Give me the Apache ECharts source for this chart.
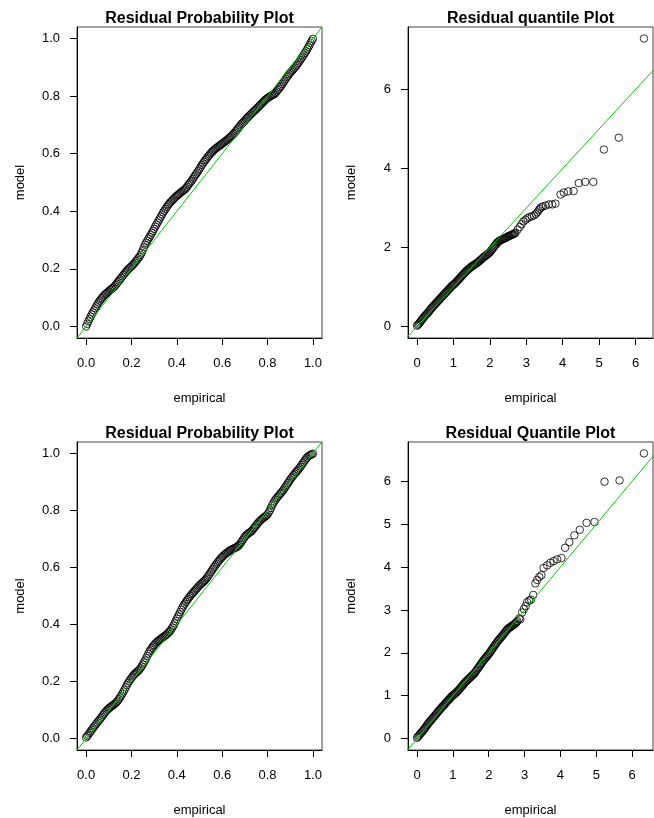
<!DOCTYPE html>
<html>
<head>
<meta charset="utf-8">
<title>Residual plots</title>
<script src="https://cdn.jsdelivr.net/npm/echarts@6/dist/echarts.min.js"></script>
<style>
  html, body { margin: 0; padding: 0; background: #fff; }
  #main { width: 654px; height: 818px; }
</style>
</head>
<body>
<div id="main"></div>
<script>
// empirical probabilities (shared by both probability plots)
var probEmpirical = [
  0.000, 0.005, 0.010, 0.015, 0.020, 0.025, 0.030, 0.035, 0.040, 0.045, 0.050, 0.055, 0.060, 0.065, 0.070, 0.075, 0.080, 0.085, 0.090, 0.095,
  0.100, 0.105, 0.110, 0.115, 0.120, 0.125, 0.130, 0.135, 0.140, 0.145, 0.150, 0.155, 0.160, 0.165, 0.170, 0.175, 0.180, 0.185, 0.190, 0.195,
  0.200, 0.205, 0.210, 0.215, 0.220, 0.225, 0.230, 0.235, 0.240, 0.245, 0.250, 0.255, 0.260, 0.265, 0.270, 0.275, 0.280, 0.285, 0.290, 0.295,
  0.300, 0.305, 0.310, 0.315, 0.320, 0.325, 0.330, 0.335, 0.340, 0.345, 0.350, 0.355, 0.360, 0.365, 0.370, 0.375, 0.380, 0.385, 0.390, 0.395,
  0.400, 0.405, 0.410, 0.415, 0.420, 0.425, 0.430, 0.435, 0.440, 0.445, 0.450, 0.455, 0.460, 0.465, 0.470, 0.475, 0.480, 0.485, 0.490, 0.495,
  0.500, 0.505, 0.510, 0.515, 0.520, 0.525, 0.530, 0.535, 0.540, 0.545, 0.550, 0.555, 0.560, 0.565, 0.570, 0.575, 0.580, 0.585, 0.590, 0.595,
  0.600, 0.605, 0.610, 0.615, 0.620, 0.625, 0.630, 0.635, 0.640, 0.645, 0.650, 0.655, 0.660, 0.665, 0.670, 0.675, 0.680, 0.685, 0.690, 0.695,
  0.700, 0.705, 0.710, 0.715, 0.720, 0.725, 0.730, 0.735, 0.740, 0.745, 0.750, 0.755, 0.760, 0.765, 0.770, 0.775, 0.780, 0.785, 0.790, 0.795,
  0.800, 0.805, 0.810, 0.815, 0.820, 0.825, 0.830, 0.835, 0.840, 0.845, 0.850, 0.855, 0.860, 0.865, 0.870, 0.875, 0.880, 0.885, 0.890, 0.895,
  0.900, 0.905, 0.910, 0.915, 0.920, 0.925, 0.930, 0.935, 0.940, 0.945, 0.950, 0.955, 0.960, 0.965, 0.970, 0.975, 0.980, 0.985, 0.990, 0.995,
  1.000
]
// top-left: model probabilities
var p1Model = [
  0.000, 0.009, 0.018, 0.026, 0.034, 0.042, 0.049, 0.056, 0.063, 0.070, 0.077, 0.083, 0.089, 0.094, 0.099, 0.104, 0.108, 0.112, 0.115, 0.119,
  0.122, 0.126, 0.129, 0.132, 0.135, 0.139, 0.144, 0.149, 0.154, 0.159, 0.164, 0.169, 0.174, 0.179, 0.184, 0.189, 0.194, 0.198, 0.202, 0.205,
  0.209, 0.213, 0.217, 0.222, 0.227, 0.232, 0.237, 0.242, 0.248, 0.256, 0.265, 0.275, 0.284, 0.291, 0.298, 0.305, 0.311, 0.318, 0.325, 0.332,
  0.339, 0.347, 0.354, 0.361, 0.368, 0.375, 0.382, 0.389, 0.396, 0.402, 0.408, 0.414, 0.420, 0.425, 0.430, 0.434, 0.438, 0.442, 0.446, 0.450,
  0.454, 0.457, 0.460, 0.464, 0.467, 0.470, 0.473, 0.476, 0.480, 0.485, 0.491, 0.496, 0.501, 0.506, 0.512, 0.518, 0.524, 0.529, 0.535, 0.541,
  0.547, 0.554, 0.560, 0.566, 0.572, 0.577, 0.582, 0.587, 0.592, 0.597, 0.602, 0.606, 0.610, 0.614, 0.617, 0.620, 0.623, 0.626, 0.629, 0.632,
  0.635, 0.638, 0.641, 0.644, 0.647, 0.650, 0.654, 0.657, 0.661, 0.665, 0.669, 0.673, 0.678, 0.683, 0.688, 0.693, 0.698, 0.703, 0.707, 0.711,
  0.715, 0.720, 0.724, 0.728, 0.732, 0.736, 0.740, 0.744, 0.748, 0.751, 0.755, 0.759, 0.763, 0.767, 0.771, 0.775, 0.779, 0.783, 0.787, 0.790,
  0.793, 0.796, 0.798, 0.801, 0.803, 0.805, 0.807, 0.811, 0.816, 0.821, 0.826, 0.831, 0.836, 0.842, 0.848, 0.854, 0.860, 0.866, 0.871, 0.876,
  0.881, 0.886, 0.890, 0.895, 0.899, 0.904, 0.909, 0.914, 0.920, 0.926, 0.932, 0.938, 0.944, 0.950, 0.956, 0.963, 0.970, 0.977, 0.985, 0.992,
  0.999
]
// bottom-left: model probabilities
var p3Model = [
  0.004, 0.009, 0.014, 0.020, 0.025, 0.031, 0.036, 0.042, 0.047, 0.052, 0.057, 0.062, 0.067, 0.072, 0.077, 0.083, 0.088, 0.093, 0.098, 0.102,
  0.106, 0.109, 0.112, 0.115, 0.118, 0.121, 0.124, 0.128, 0.133, 0.139, 0.145, 0.151, 0.158, 0.165, 0.172, 0.180, 0.188, 0.195, 0.201, 0.207,
  0.213, 0.218, 0.223, 0.227, 0.231, 0.234, 0.238, 0.242, 0.247, 0.253, 0.260, 0.267, 0.274, 0.282, 0.290, 0.298, 0.306, 0.312, 0.318, 0.323,
  0.328, 0.333, 0.337, 0.341, 0.344, 0.347, 0.350, 0.353, 0.356, 0.359, 0.362, 0.365, 0.369, 0.373, 0.377, 0.383, 0.389, 0.396, 0.404, 0.412,
  0.420, 0.428, 0.436, 0.444, 0.452, 0.460, 0.467, 0.473, 0.479, 0.485, 0.490, 0.496, 0.501, 0.506, 0.510, 0.515, 0.519, 0.524, 0.528, 0.533,
  0.537, 0.541, 0.545, 0.548, 0.552, 0.556, 0.561, 0.566, 0.572, 0.578, 0.584, 0.590, 0.596, 0.602, 0.607, 0.613, 0.618, 0.623, 0.628, 0.633,
  0.637, 0.641, 0.645, 0.648, 0.651, 0.654, 0.657, 0.660, 0.662, 0.664, 0.666, 0.668, 0.670, 0.672, 0.675, 0.679, 0.684, 0.690, 0.696, 0.702,
  0.708, 0.712, 0.716, 0.719, 0.722, 0.725, 0.728, 0.733, 0.738, 0.743, 0.748, 0.753, 0.758, 0.762, 0.766, 0.770, 0.773, 0.776, 0.779, 0.782,
  0.786, 0.793, 0.800, 0.809, 0.818, 0.825, 0.832, 0.838, 0.843, 0.848, 0.853, 0.858, 0.862, 0.867, 0.872, 0.878, 0.884, 0.890, 0.896, 0.902,
  0.908, 0.914, 0.919, 0.924, 0.929, 0.934, 0.938, 0.943, 0.948, 0.953, 0.959, 0.965, 0.970, 0.976, 0.982, 0.986, 0.990, 0.993, 0.995, 0.997,
  0.999
]

// top-right: residual quantiles
var q2Empirical = [
  0.000, 0.025, 0.050, 0.075, 0.100, 0.125, 0.150, 0.175, 0.200, 0.225, 0.250, 0.275, 0.300, 0.325, 0.350, 0.375, 0.400, 0.425, 0.450, 0.475,
  0.500, 0.525, 0.550, 0.575, 0.600, 0.625, 0.650, 0.675, 0.700, 0.725, 0.750, 0.775, 0.800, 0.825, 0.850, 0.875, 0.900, 0.925, 0.950, 0.975,
  1.000, 1.025, 1.050, 1.075, 1.100, 1.125, 1.150, 1.175, 1.200, 1.225, 1.250, 1.275, 1.300, 1.325, 1.350, 1.375, 1.400, 1.425, 1.450, 1.475,
  1.500, 1.525, 1.550, 1.575, 1.600, 1.625, 1.650, 1.675, 1.700, 1.725, 1.750, 1.775, 1.800, 1.825, 1.850, 1.875, 1.900, 1.925, 1.950, 1.975,
  2.000, 2.025, 2.050, 2.075, 2.100, 2.125, 2.150, 2.175, 2.200, 2.225, 2.250, 2.275, 2.300, 2.325, 2.350, 2.375, 2.400, 2.425, 2.450, 2.475,
  2.500, 2.525, 2.550, 2.575, 2.600, 2.625, 2.650, 2.675, 2.700,
  2.76, 2.82, 2.87, 2.92, 2.98, 3.03, 3.09, 3.15, 3.21, 3.26,
  3.30, 3.34, 3.37, 3.41, 3.46, 3.53, 3.62, 3.71, 3.80, 3.94,
  4.03, 4.15, 4.30, 4.44, 4.62, 4.84, 5.13, 5.54, 6.23
]
var q2Model = [
  0.020, 0.045, 0.070, 0.100, 0.130, 0.160, 0.190, 0.220, 0.250, 0.275, 0.300, 0.325, 0.350, 0.380, 0.410, 0.440, 0.470, 0.495, 0.520, 0.545,
  0.570, 0.595, 0.620, 0.645, 0.670, 0.695, 0.720, 0.745, 0.770, 0.795, 0.820, 0.845, 0.870, 0.895, 0.920, 0.945, 0.970, 0.995, 1.020, 1.040,
  1.060, 1.080, 1.100, 1.125, 1.150, 1.175, 1.200, 1.225, 1.250, 1.275, 1.300, 1.325, 1.350, 1.375, 1.400, 1.420, 1.440, 1.460, 1.480, 1.500,
  1.520, 1.535, 1.550, 1.565, 1.580, 1.595, 1.610, 1.630, 1.650, 1.670, 1.690, 1.710, 1.730, 1.750, 1.770, 1.785, 1.800, 1.820, 1.840, 1.860,
  1.880, 1.910, 1.940, 1.970, 2.000, 2.030, 2.060, 2.090, 2.120, 2.140, 2.160, 2.175, 2.190, 2.200, 2.210, 2.220, 2.230, 2.240, 2.250, 2.265,
  2.280, 2.290, 2.300, 2.310, 2.320, 2.330, 2.340, 2.355, 2.370,
  2.45, 2.52, 2.59, 2.66, 2.70, 2.74, 2.77, 2.79, 2.81, 2.85,
  2.89, 2.94, 2.98, 3.02, 3.04, 3.06, 3.09, 3.09, 3.11, 3.34,
  3.39, 3.42, 3.43, 3.63, 3.66, 3.66, 4.48, 4.78, 7.29
]

// bottom-right: residual quantiles
var q4Empirical = [
  0.000, 0.025, 0.050, 0.075, 0.100, 0.125, 0.150, 0.175, 0.200, 0.225, 0.250, 0.275, 0.300, 0.325, 0.350, 0.375, 0.400, 0.425, 0.450, 0.475,
  0.500, 0.525, 0.550, 0.575, 0.600, 0.625, 0.650, 0.675, 0.700, 0.725, 0.750, 0.775, 0.800, 0.825, 0.850, 0.875, 0.900, 0.925, 0.950, 0.975,
  1.000, 1.025, 1.050, 1.075, 1.100, 1.125, 1.150, 1.175, 1.200, 1.225, 1.250, 1.275, 1.300, 1.325, 1.350, 1.375, 1.400, 1.425, 1.450, 1.475,
  1.500, 1.525, 1.550, 1.575, 1.600, 1.625, 1.650, 1.675, 1.700, 1.725, 1.750, 1.775, 1.800, 1.825, 1.850, 1.875, 1.900, 1.925, 1.950, 1.975,
  2.000, 2.025, 2.050, 2.075, 2.100, 2.125, 2.150, 2.175, 2.200, 2.225, 2.250, 2.275, 2.300, 2.325, 2.350, 2.375, 2.400, 2.425, 2.450, 2.475,
  2.500, 2.525, 2.550, 2.575, 2.600, 2.625, 2.650, 2.675, 2.700, 2.725, 2.750, 2.775, 2.800,
  2.85, 2.88, 2.93, 2.98, 3.03, 3.07, 3.13, 3.18, 3.24, 3.30,
  3.35, 3.41, 3.47, 3.53, 3.63, 3.72, 3.81, 3.91, 4.03, 4.13,
  4.25, 4.39, 4.54, 4.73, 4.95, 5.23, 5.65, 6.33
]
var q4Model = [
  0.020, 0.045, 0.070, 0.095, 0.120, 0.145, 0.170, 0.195, 0.220, 0.250, 0.280, 0.310, 0.340, 0.365, 0.390, 0.415, 0.440, 0.465, 0.490, 0.515,
  0.540, 0.565, 0.590, 0.615, 0.640, 0.665, 0.690, 0.715, 0.740, 0.760, 0.780, 0.805, 0.830, 0.855, 0.880, 0.900, 0.920, 0.945, 0.970, 0.990,
  1.010, 1.025, 1.040, 1.060, 1.080, 1.100, 1.120, 1.145, 1.170, 1.195, 1.220, 1.245, 1.270, 1.295, 1.320, 1.340, 1.360, 1.380, 1.400, 1.420,
  1.440, 1.460, 1.480, 1.500, 1.520, 1.550, 1.580, 1.610, 1.640, 1.670, 1.700, 1.730, 1.760, 1.790, 1.820, 1.845, 1.870, 1.895, 1.920, 1.945,
  1.970, 2.000, 2.030, 2.060, 2.090, 2.120, 2.150, 2.180, 2.210, 2.240, 2.270, 2.295, 2.320, 2.345, 2.370, 2.395, 2.420, 2.445, 2.470, 2.500,
  2.530, 2.550, 2.570, 2.585, 2.600, 2.615, 2.630, 2.645, 2.660, 2.675, 2.690, 2.715, 2.740,
  2.80, 2.78, 2.94, 3.02, 3.09, 3.18, 3.22, 3.24, 3.35, 3.62,
  3.70, 3.77, 3.81, 3.98, 4.04, 4.10, 4.14, 4.18, 4.21, 4.45,
  4.58, 4.74, 4.87, 5.03, 5.05, 5.99, 6.02, 6.65
]

// tick labels
var probTicks = [0, 0.2, 0.4, 0.6, 0.8, 1.0]
var q2XTicks = [0, 1, 2, 3, 4, 5, 6]
var q2YTicks = [0, 2, 4, 6]
var q4XTicks = [0, 1, 2, 3, 4, 5, 6]
var q4YTicks = [0, 1, 2, 3, 4, 5, 6]

var titles = ['Residual Probability Plot', 'Residual quantile Plot',
              'Residual Probability Plot', 'Residual Quantile Plot']

var FONT = '"Liberation Sans", Arial, Helvetica, sans-serif'

// R style: axis limits are data range +/- 4%
var panels = [
  { box: [77, 27], xr: [-0.04, 1.04], yr: [-0.04, 1.04], xt: probTicks, yt: probTicks, dec: 1, xs: probEmpirical, ys: p1Model },
  { box: [408, 27], xr: [-0.249, 6.479], yr: [-0.2916, 7.5816], xt: q2XTicks, yt: q2YTicks, dec: 0, xs: q2Empirical, ys: q2Model },
  { box: [77, 442], xr: [-0.04, 1.04], yr: [-0.04, 1.04], xt: probTicks, yt: probTicks, dec: 1, xs: probEmpirical, ys: p3Model },
  { box: [408, 442], xr: [-0.2532, 6.5832], yr: [-0.266, 6.916], xt: q4XTicks, yt: q4YTicks, dec: 0, xs: q4Empirical, ys: q4Model }
]
var PW = 245, PH = 311

var grids = [], xAxes = [], yAxes = [], series = [], texts = []

panels.forEach(function (p, i) {
  var fmt = function (v) { return Number(v).toFixed(p.dec) }
  grids.push({
    left: p.box[0], top: p.box[1], width: PW, height: PH,
    show: true, borderColor: '#444', borderWidth: 1, backgroundColor: 'transparent'
  })
  var axisCommon = {
    gridIndex: i,
    type: 'value',
    nameLocation: 'middle',
    nameTextStyle: { fontSize: 13, color: '#000', fontFamily: FONT },
    axisLine: { show: true, onZero: false, lineStyle: { color: '#000', width: 1 } },
    splitLine: { show: false }
  }
  xAxes.push(Object.assign({}, axisCommon, {
    min: p.xr[0], max: p.xr[1],
    name: 'empirical', nameGap: 54,
    axisTick: { show: true, length: 7, customValues: p.xt, lineStyle: { color: '#000' } },
    axisLabel: { customValues: p.xt, margin: 19, fontSize: 13, color: '#000', fontFamily: FONT, formatter: fmt }
  }))
  yAxes.push(Object.assign({}, axisCommon, {
    min: p.yr[0], max: p.yr[1],
    name: 'model', nameGap: 50,
    axisTick: { show: true, length: 7, customValues: p.yt, lineStyle: { color: '#000' } },
    axisLabel: { customValues: p.yt, margin: 17, fontSize: 13, color: '#000', fontFamily: FONT, formatter: fmt }
  }))
  series.push({
    type: 'scatter',
    xAxisIndex: i, yAxisIndex: i,
    data: p.xs.map(function (x, k) { return [x, p.ys[k]] }),
    symbol: 'circle',
    symbolSize: 7.5,
    itemStyle: { color: 'rgba(0,0,0,0)', borderColor: '#000', borderWidth: 1 },
    silent: true,
    z: 2
  })
  // abline(0, 1)
  var lo = Math.min(p.xr[0], p.yr[0]), hi = Math.max(p.xr[1], p.yr[1])
  series.push({
    type: 'line',
    xAxisIndex: i, yAxisIndex: i,
    data: [[lo, lo], [hi, hi]],
    symbol: 'none',
    clip: true,
    lineStyle: { color: '#00cd00', width: 1 },
    silent: true,
    z: 3
  })
  texts.push({
    type: 'text',
    x: p.box[0] + PW / 2,
    y: p.box[1] - 8,
    style: {
      text: titles[i],
      font: 'bold 16px ' + FONT,
      fill: '#000',
      align: 'center',
      verticalAlign: 'middle'
    }
  })
})

var myChart = echarts.init(document.getElementById('main'))
myChart.setOption({
  animation: false,
  backgroundColor: '#fff',
  grid: grids,
  xAxis: xAxes,
  yAxis: yAxes,
  series: series,
  graphic: texts
})
</script>
</body>
</html>
